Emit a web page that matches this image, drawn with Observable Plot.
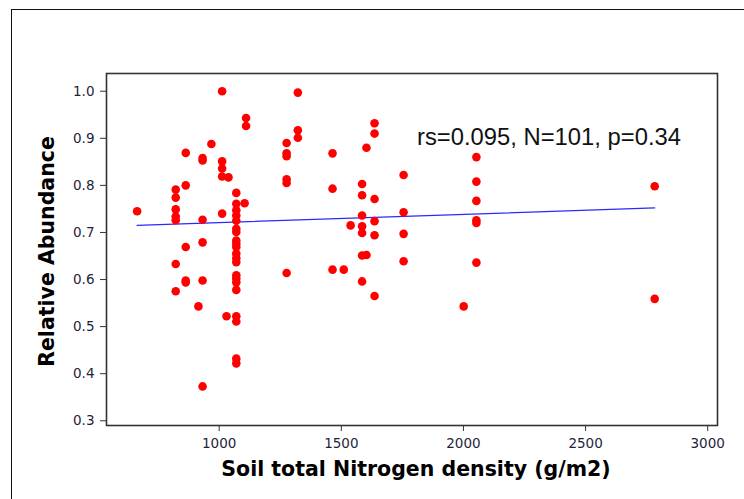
<!DOCTYPE html>
<html>
<head>
<meta charset="utf-8">
<script src="https://cdn.jsdelivr.net/npm/d3@7"></script>
<script src="https://cdn.jsdelivr.net/npm/@observablehq/plot@0.6"></script>
<style>
  html, body { margin: 0; padding: 0; background: #fff; overflow: hidden; }
  #wrap { position: relative; width: 744px; height: 499px; }
  #border { position: absolute; left: 11px; top: 9px; width: 800px; height: 600px;
            border-left: 1.5px solid #111; border-top: 1.5px solid #111; }
  #chart { position: absolute; left: 0; top: 0; }
</style>
</head>
<body>
<div id="wrap"><div id="border"></div><div id="chart"></div></div>
<script>
// Soil total Nitrogen density (g/m2) for each sample
const nitrogen = [
  664,
  822, 822, 822, 822, 822, 822, 822,
  863, 863, 863, 863, 863,
  915,
  932, 932, 932, 932, 932, 932,
  968,
  1012, 1012, 1012, 1012, 1012,
  1038,
  1030,
  1070, 1070, 1070, 1070, 1070, 1070, 1070, 1070, 1070, 1070, 1070,
  1070, 1070, 1070, 1070, 1070, 1070, 1070, 1070, 1070, 1070,
  1104,
  1110, 1110,
  1276, 1276, 1276, 1276, 1276, 1276,
  1322, 1322, 1322,
  1464, 1464, 1464,
  1510,
  1538,
  1585, 1585, 1585, 1585, 1585, 1585, 1585,
  1603, 1603,
  1636, 1636, 1636, 1636, 1636, 1636,
  1755, 1755, 1755, 1755,
  2001,
  2053, 2053, 2053, 2053, 2053, 2053,
  2783, 2783
];
// Relative Abundance for each sample (same order)
const abundance = [
  0.745,
  0.791, 0.774, 0.749, 0.734, 0.726, 0.633, 0.575,
  0.869, 0.800, 0.669, 0.598, 0.594,
  0.543,
  0.858, 0.853, 0.727, 0.679, 0.598, 0.373,
  0.888,
  1.000, 0.851, 0.836, 0.819, 0.740,
  0.817,
  0.522,
  0.784, 0.761, 0.747, 0.736, 0.725, 0.708, 0.701, 0.683, 0.676, 0.669, 0.655,
  0.645, 0.637, 0.609, 0.602, 0.594, 0.578, 0.522, 0.511, 0.432, 0.422,
  0.762,
  0.943, 0.926,
  0.890, 0.868, 0.862, 0.813, 0.805, 0.614,
  0.997, 0.917, 0.901,
  0.868, 0.793, 0.621,
  0.621,
  0.715,
  0.803, 0.779, 0.736, 0.713, 0.699, 0.651, 0.596,
  0.880, 0.652,
  0.932, 0.910, 0.771, 0.724, 0.694, 0.565,
  0.822, 0.743, 0.697, 0.639,
  0.543,
  0.860, 0.808, 0.767, 0.726, 0.720, 0.636,
  0.798, 0.559
];
// Fitted line endpoints as drawn
const fitX = [664, 2783];
const fitY = [0.715, 0.752];

const xTicks = [1000, 1500, 2000, 2500, 3000];
const yTicks = [0.3, 0.4, 0.5, 0.6, 0.7, 0.8, 0.9, 1.0];
const xTitle = "Soil total Nitrogen density (g/m2)";
const yTitle = "Relative Abundance";
const annotation = "rs=0.095, N=101, p=0.34";

const points = nitrogen.map((n, i) => ({n, a: abundance[i]}));
const fit = fitX.map((n, i) => ({n, a: fitY[i]}));

const chart = Plot.plot({
  width: 744,
  height: 499,
  marginLeft: 106,
  marginRight: 27,
  marginTop: 73,
  marginBottom: 74,
  style: {background: "transparent", fontFamily: "DejaVu Sans", fontSize: "13.5px", color: "#1f1f3a", overflow: "visible"},
  x: {domain: [538.6, 3040.1]},
  y: {domain: [0.290, 1.0376]},
  marks: [
    Plot.axisX({ticks: xTicks, tickSize: 6, tickPadding: 7, tickFormat: d => String(d), label: null, stroke: "#333"}),
    Plot.axisY({ticks: yTicks, tickSize: 6, tickPadding: 6, tickFormat: d => d.toFixed(1), label: null, stroke: "#333"}),
    Plot.line(fit, {x: "n", y: "a", stroke: "#2a2aff", strokeWidth: 1.2}),
    Plot.dot(points, {x: "n", y: "a", r: 4.3, fill: "#ff0000", stroke: "none"}),
    Plot.frame({stroke: "#333", strokeWidth: 1.6}),
    Plot.text([annotation], {frameAnchor: "top-right", textAnchor: "end", lineAnchor: "middle", dx: -36.5, dy: 63.5, fontFamily: "Liberation Sans", fontSize: 23.8, fill: "#111"}),
    Plot.text([xTitle], {frameAnchor: "bottom", lineAnchor: "middle", textAnchor: "middle", dy: 44.4, dx: 4, fontWeight: "bold", fontSize: 20.5, fontFamily: "DejaVu Sans", fill: "#000"}),
    Plot.text([yTitle], {frameAnchor: "left", textAnchor: "middle", lineAnchor: "middle", rotate: -90, dx: -59.5, dy: 2, fontWeight: "bold", fontSize: 20.5, fontFamily: "DejaVu Sans", fill: "#000"})
  ]
});
document.getElementById("chart").appendChild(chart);
</script>
</body>
</html>
